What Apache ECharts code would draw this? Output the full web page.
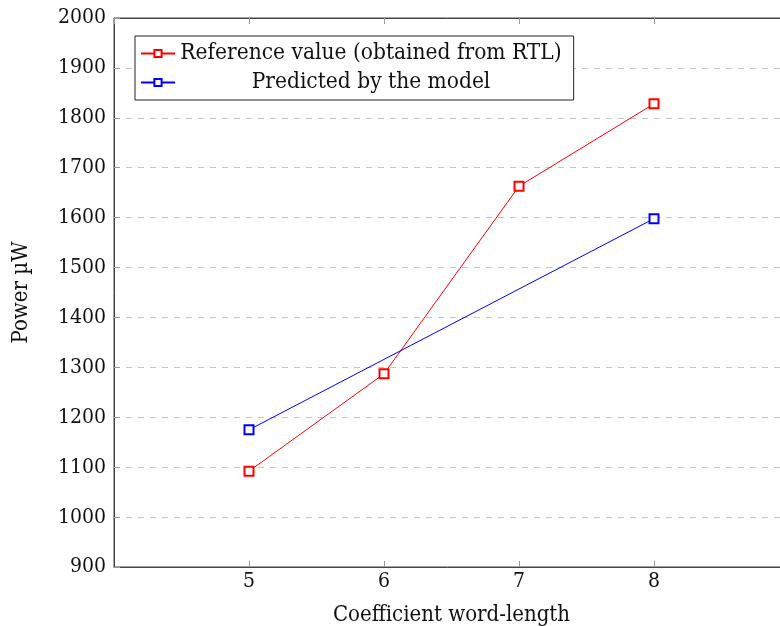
<!DOCTYPE html>
<html>
<head>
<meta charset="utf-8">
<script src="https://cdn.jsdelivr.net/npm/echarts@6/dist/echarts.min.js"></script>
<style>
  html, body { margin: 0; padding: 0; background: #fff; }
  #chart { width: 780px; height: 626px; }
</style>
</head>
<body>
<div id="chart"></div>
<script>
// Coefficient word-length vs. power
const wordLengths = [5, 6, 7, 8];
const referencePower = [1092, 1287, 1663, 1828];
const predictedX = [5, 8];
const predictedPower = [1175, 1598];
const seriesNames = ['Reference value (obtained from RTL)', 'Predicted by the model'];

const FONT = '"DejaVu Serif Condensed", "Liberation Serif", serif';
const LEGEND_SIZE = 22.5;
const chart = echarts.init(document.getElementById('chart'), null, { renderer: 'canvas' });

const pair = (xs, ys) => xs.map((x, i) => [x, ys[i]]);
const plain = v => String(v);

// Widest legend entry decides the text column; shorter ones are centred in it
const ctx = document.createElement('canvas').getContext('2d');
ctx.font = LEGEND_SIZE + 'px ' + FONT;
const legendTextWidth = Math.ceil(Math.max(...seriesNames.map(n => ctx.measureText(n).width)));

chart.setOption({
  animation: false,
  backgroundColor: '#fff',
  textStyle: { fontFamily: FONT },
  grid: {
    left: 114, top: 18, width: 675, height: 549,
    outerBoundsMode: 'none', containLabel: false,
    show: true, borderColor: '#444', borderWidth: 1
  },
  legend: {
    orient: 'vertical',
    left: 135,
    top: 36,
    padding: [6, 12, 6, 5],
    itemGap: 6,
    itemWidth: 34,
    itemHeight: 9,
    borderColor: '#222',
    borderWidth: 1,
    backgroundColor: '#fff',
    data: seriesNames,
    formatter: name => '{t|' + name + '}',
    textStyle: {
      rich: { t: { fontFamily: FONT, fontSize: LEGEND_SIZE, color: '#111', width: legendTextWidth, align: 'center' } }
    }
  },
  xAxis: [{
    type: 'value',
    min: 4, max: 9, interval: 1,
    name: 'Coefficient word-length',
    nameLocation: 'middle',
    nameGap: 37,
    nameTextStyle: { fontFamily: FONT, fontSize: 22, color: '#111' },
    axisLine: { show: true, onZero: false, lineStyle: { color: '#444', width: 1 } },
    axisTick: { show: true, inside: true, length: 6, lineStyle: { color: '#999' } },
    axisLabel: { showMinLabel: false, showMaxLabel: false, formatter: plain, fontFamily: FONT, fontSize: 21, color: '#111', margin: 4 },
    splitLine: { show: false }
  }, {
    type: 'value',
    position: 'top',
    min: 4, max: 9, interval: 1,
    axisLine: { show: true, onZero: false, lineStyle: { color: '#444', width: 1 } },
    axisTick: { show: true, inside: true, length: 6, lineStyle: { color: '#999' } },
    axisLabel: { show: false },
    splitLine: { show: false }
  }],
  yAxis: {
    type: 'value',
    min: 900, max: 2000, interval: 100,
    name: 'Power µW',
    nameLocation: 'middle',
    nameRotate: 90,
    nameGap: 82,
    nameTextStyle: { fontFamily: FONT, fontSize: 22, color: '#111' },
    axisLine: { show: true, onZero: false, lineStyle: { color: '#444', width: 1 } },
    axisTick: { show: true, inside: true, length: 6, lineStyle: { color: '#999' } },
    axisLabel: { formatter: plain, fontFamily: FONT, fontSize: 21, color: '#111', margin: 8 },
    splitLine: { show: true, lineStyle: { color: '#c4c4c4', type: [6, 6], width: 1 } }
  },
  series: [{
    name: seriesNames[0],
    type: 'line',
    data: pair(wordLengths, referencePower),
    symbol: 'emptyRect',
    symbolSize: 9,
    itemStyle: { color: '#ff0000', borderWidth: 1 },
    lineStyle: { color: '#ff0000', width: 1 },
    z: 3
  }, {
    name: seriesNames[1],
    type: 'line',
    data: pair(predictedX, predictedPower),
    symbol: 'emptyRect',
    symbolSize: 9,
    itemStyle: { color: '#0000ff', borderWidth: 1 },
    lineStyle: { color: '#0000ff', width: 1 },
    z: 3
  }]
});
</script>
</body>
</html>
